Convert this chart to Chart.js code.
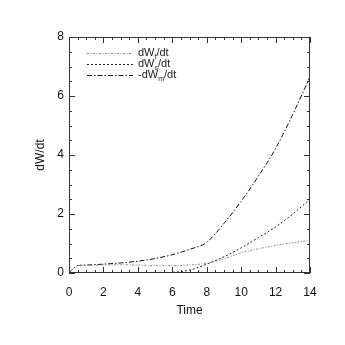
<!DOCTYPE html>
<html>
<head>
<meta charset="utf-8">
<script src="https://cdn.jsdelivr.net/npm/chart.js@4.4.1/dist/chart.umd.min.js"></script>
<style>
  html, body { margin: 0; padding: 0; background: #fff; }
  #wrap { width: 345px; height: 345px; }
</style>
</head>
<body>
<div id="wrap"><canvas id="grafico" width="345" height="345"></canvas></div>
<script>
// dados
const tempo = [0, 0.5, 1, 2, 3, 4, 5, 6, 7, 8, 9, 10, 11, 12, 13, 14];
const dWf = [0, 0.25, 0.26, 0.27, 0.28, 0.27, 0.25, 0.25, 0.27, 0.33, 0.48, 0.68, 0.82, 0.93, 1.03, 1.1];
const dWs = [0, 0, 0, 0, 0, 0, 0, 0.02, 0.1, 0.3, 0.55, 0.85, 1.2, 1.56, 2.0, 2.5];
const dWm = [0, 0.25, 0.27, 0.3, 0.34, 0.4, 0.49, 0.62, 0.8, 1.04, 1.68, 2.43, 3.28, 4.22, 5.38, 6.65];
const xTicks = [0, 2, 4, 6, 8, 10, 12, 14];
const yTicks = [0, 2, 4, 6, 8];

// legenda: [texto antes, subscrito, texto depois]
const legendas = [
  ["dW", "f", "/dt"],
  ["dW", "s", "/dt"],
  ["-dW", "m", "/dt"]
];
const estilos = [
  { cor: "#8a8a8a", dash: [2, 1.5, 1, 1.5] },
  { cor: "#222", dash: [2, 2] },
  { cor: "#111", dash: [5, 2, 1.5, 2] }
];

const fonte = "'Liberation Sans', Arial, sans-serif";

function pontos(ys) {
  return tempo.map((t, i) => ({ x: t, y: ys[i] }));
}

// moldura, ticks para dentro e legenda com subscritos
const moldura = {
  id: "moldura",
  afterDraw(chart) {
    const ctx = chart.ctx;
    const a = chart.chartArea;
    const sx = chart.scales.x;
    const sy = chart.scales.y;
    ctx.save();
    ctx.strokeStyle = "#333";
    ctx.lineWidth = 1;
    ctx.setLineDash([]);
    ctx.strokeRect(a.left + 0.5, a.top + 0.5, a.right - a.left - 1, a.bottom - a.top - 1);

    ctx.beginPath();
    for (let v = 0; v <= 14.001; v += 0.5) {
      const px = Math.round(sx.getPixelForValue(v)) + 0.5;
      const len = xTicks.includes(v) ? 6 : 3;
      ctx.moveTo(px, a.bottom);
      ctx.lineTo(px, a.bottom - len);
      ctx.moveTo(px, a.top);
      ctx.lineTo(px, a.top + len);
    }
    for (let v = 0; v <= 8.001; v += 0.5) {
      const py = Math.round(sy.getPixelForValue(v)) + 0.5;
      const len = yTicks.includes(v) ? 6 : 3;
      ctx.moveTo(a.left, py);
      ctx.lineTo(a.left + len, py);
      ctx.moveTo(a.right, py);
      ctx.lineTo(a.right - len, py);
    }
    ctx.stroke();

    // legenda
    const x0 = a.left + 18;
    const x1 = a.left + 64;
    legendas.forEach((l, i) => {
      const y = a.top + 16 + i * 11;
      ctx.strokeStyle = estilos[i].cor;
      ctx.setLineDash(estilos[i].dash);
      ctx.beginPath();
      ctx.moveTo(x0, y + 0.5);
      ctx.lineTo(x1, y + 0.5);
      ctx.stroke();
      ctx.setLineDash([]);
      ctx.fillStyle = "#222";
      ctx.textBaseline = "middle";
      ctx.font = "11px " + fonte;
      let tx = x1 + 5;
      ctx.fillText(l[0], tx, y);
      tx += ctx.measureText(l[0]).width;
      ctx.font = "7px " + fonte;
      ctx.fillText(l[1], tx, y + 4);
      tx += ctx.measureText(l[1]).width;
      ctx.font = "11px " + fonte;
      ctx.fillText(l[2], tx, y);
    });
    ctx.restore();
  }
};

new Chart(document.getElementById("grafico"), {
  type: "line",
  data: {
    datasets: [
      { label: "dWf/dt", data: pontos(dWf), borderColor: estilos[0].cor, borderDash: estilos[0].dash },
      { label: "dWs/dt", data: pontos(dWs), borderColor: estilos[1].cor, borderDash: estilos[1].dash },
      { label: "-dWm/dt", data: pontos(dWm), borderColor: estilos[2].cor, borderDash: estilos[2].dash }
    ].map((d) => Object.assign(d, {
      borderWidth: 1,
      pointRadius: 0,
      fill: false,
      cubicInterpolationMode: "monotone"
    }))
  },
  options: {
    responsive: false,
    animation: false,
    layout: { padding: { top: 37, right: 35, bottom: 27, left: 30 } },
    plugins: { legend: { display: false }, tooltip: { enabled: false } },
    scales: {
      x: {
        type: "linear",
        min: 0,
        max: 14,
        afterFit: (s) => { s.height = 45; },
        grid: { display: false, drawTicks: false },
        border: { display: false },
        afterBuildTicks: (s) => { s.ticks = xTicks.map((v) => ({ value: v })); },
        ticks: { padding: 12, color: "#111", font: { family: fonte, size: 12 }, maxRotation: 0 },
        title: { display: true, text: "Time", color: "#111", font: { family: fonte, size: 12 }, padding: 0 }
      },
      y: {
        min: 0,
        max: 8,
        afterFit: (s) => { s.width = 39; },
        grid: { display: false, drawTicks: false },
        border: { display: false },
        afterBuildTicks: (s) => { s.ticks = yTicks.map((v) => ({ value: v })); },
        ticks: { padding: 5, color: "#111", font: { family: fonte, size: 12 } },
        title: { display: true, text: "dW/dt", color: "#111", font: { family: fonte, size: 12 }, padding: 3 }
      }
    }
  },
  plugins: [moldura]
});
</script>
</body>
</html>
